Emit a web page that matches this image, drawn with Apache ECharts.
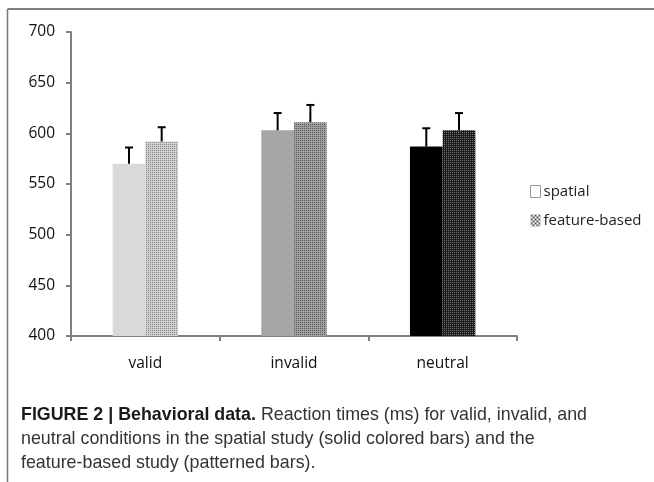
<!DOCTYPE html>
<html>
<head>
<meta charset="utf-8">
<script src="https://cdn.jsdelivr.net/npm/echarts@6/dist/echarts.min.js"></script>
<style>
html,body{margin:0;padding:0;background:#fff;}
#chart{width:654px;height:482px;}
</style>
</head>
<body>
<div id="chart"></div>
<script>
// ---- data ----
const categories = ['valid', 'invalid', 'neutral'];
const spatialValues = [570, 603, 587];
const spatialErrors = [16, 17, 18];
const featureValues = [592, 611, 603];
const featureErrors = [14, 17, 17];
const seriesNames = ['spatial', 'feature-based'];
const yMin = 400, yMax = 700, yStep = 50;
const captionBold = 'FIGURE 2 | Behavioral data.';
const captionLines = [
  ' Reaction times (ms) for valid, invalid, and',
  'neutral conditions in the spatial study (solid colored bars) and the',
  'feature-based study (patterned bars).'
];

// ---- styles ----
const spatialColors = ['#d9d9d9', '#a6a6a6', '#000000'];
const featurePatternColors = [['#d0d0d0', '#8a8a8a'], ['#a0a0a0', '#585858'], ['#1a1a1a', '#777777']];

function makePattern(bg, dot) {
  const cv = document.createElement('canvas');
  cv.width = 2; cv.height = 2;
  const ctx = cv.getContext('2d');
  ctx.fillStyle = bg; ctx.fillRect(0, 0, 2, 2);
  ctx.fillStyle = dot; ctx.fillRect(0, 0, 1, 1);
  return { image: cv, repeat: 'repeat' };
}
const featurePatterns = featurePatternColors.map(p => makePattern(p[0], p[1]));
const legendPattern = (function () {
  const cv = document.createElement('canvas');
  cv.width = 4; cv.height = 4;
  const ctx = cv.getContext('2d');
  ctx.fillStyle = '#ffffff'; ctx.fillRect(0, 0, 4, 4);
  ctx.fillStyle = '#555555';
  ctx.fillRect(0, 0, 2, 2); ctx.fillRect(2, 2, 2, 2);
  return { image: cv, repeat: 'repeat' };
})();

const BAR_RATIO = 0.22;
function errRenderer(sign) {
  return function (params, api) {
    const ci = api.value(0), v = api.value(1), e = api.value(2);
    const base = api.coord([ci, v]);
    const top = api.coord([ci, v + e]);
    const bw = api.size([1, 0])[0] * BAR_RATIO;
    const x = base[0] + sign * bw / 2;
    return {
      type: 'group',
      children: [
        { type: 'line', shape: { x1: x, y1: base[1], x2: x, y2: top[1] }, style: { stroke: '#000', lineWidth: 2 } },
        { type: 'line', shape: { x1: x - 4, y1: top[1], x2: x + 4, y2: top[1] }, style: { stroke: '#000', lineWidth: 2 } }
      ]
    };
  };
}

// caption fitting (condensed look)
const capFont = "'Liberation Sans Narrow', 'Liberation Sans', Arial, sans-serif";
const capSize = 19;
const mctx = document.createElement('canvas').getContext('2d');
mctx.font = 'bold ' + capSize + 'px ' + capFont;
const wBold = mctx.measureText(captionBold).width;
mctx.font = capSize + 'px ' + capFont;
const wReg = mctx.measureText(captionLines[0]).width;
const capScale = 566 / (wBold + wReg);

const chart = echarts.init(document.getElementById('chart'), null, { renderer: 'canvas' });
const option = {
  animation: false,
  backgroundColor: '#ffffff',
  grid: { left: 71, right: 137, top: 32, bottom: 146, containLabel: false },
  legend: {
    orient: 'vertical',
    left: 525,
    top: 179,
    itemWidth: 10,
    itemHeight: 12,
    itemGap: 14,
    selectedMode: false,
    textStyle: { fontFamily: 'Open Sans', fontSize: 15, color: '#222', padding: [0, 0, 0, -2] },
    data: [
      { name: seriesNames[0], icon: 'rect', itemStyle: { color: '#ffffff', borderColor: '#999999', borderWidth: 1 } },
      { name: seriesNames[1], icon: 'rect', itemStyle: { color: legendPattern, borderWidth: 0 } }
    ]
  },
  xAxis: {
    type: 'category',
    data: categories,
    axisLine: { lineStyle: { color: '#808080', width: 2 } },
    axisTick: { show: true, length: 5, lineStyle: { color: '#808080', width: 2 } },
    axisLabel: { fontFamily: 'Open Sans', fontSize: 15.5, color: '#111', margin: 20 }
  },
  yAxis: {
    type: 'value',
    min: yMin, max: yMax, interval: yStep,
    axisLine: { show: true, lineStyle: { color: '#808080', width: 2 } },
    axisTick: { show: true, length: 5, lineStyle: { color: '#808080', width: 2 } },
    splitLine: { show: false },
    axisLabel: { fontFamily: 'Open Sans', fontSize: 15.5, color: '#111', margin: 16 }
  },
  series: [
    {
      name: seriesNames[0], type: 'bar', barWidth: (BAR_RATIO * 100) + '%', barGap: '0%',
      data: spatialValues.map((v, i) => ({ value: v, itemStyle: { color: spatialColors[i] } }))
    },
    {
      name: seriesNames[1], type: 'bar', barWidth: (BAR_RATIO * 100) + '%', barGap: '0%',
      data: featureValues.map((v, i) => ({ value: v, itemStyle: { color: featurePatterns[i] } }))
    },
    {
      name: 'spatial-err', type: 'custom', z: 5, renderItem: errRenderer(-1),
      encode: { x: 0, y: 1 },
      data: spatialValues.map((v, i) => [i, v, spatialErrors[i]])
    },
    {
      name: 'feature-err', type: 'custom', z: 5, renderItem: errRenderer(1),
      encode: { x: 0, y: 1 },
      data: featureValues.map((v, i) => [i, v, featureErrors[i]])
    }
  ],
  graphic: [
    { type: 'line', shape: { x1: 7.5, y1: 9, x2: 654, y2: 9 }, style: { stroke: '#555', lineWidth: 1.5 } },
    { type: 'line', shape: { x1: 7.5, y1: 9, x2: 7.5, y2: 482 }, style: { stroke: '#777', lineWidth: 1.5 } },
    {
      type: 'text', left: 21, top: 405, scaleX: capScale, originX: 0,
      style: {
        text: '{b|' + captionBold + '}' + captionLines[0],
        font: capSize + 'px ' + capFont, fill: '#333',
        rich: { b: { fontWeight: 'bold', fontSize: capSize, fontFamily: capFont, fill: '#1a1a1a' } }
      }
    },
    { type: 'text', left: 21, top: 429, scaleX: capScale, originX: 0,
      style: { text: captionLines[1], font: capSize + 'px ' + capFont, fill: '#333' } },
    { type: 'text', left: 21, top: 453, scaleX: capScale, originX: 0,
      style: { text: captionLines[2], font: capSize + 'px ' + capFont, fill: '#333' } }
  ]
};
chart.setOption(option);
</script>
</body>
</html>
